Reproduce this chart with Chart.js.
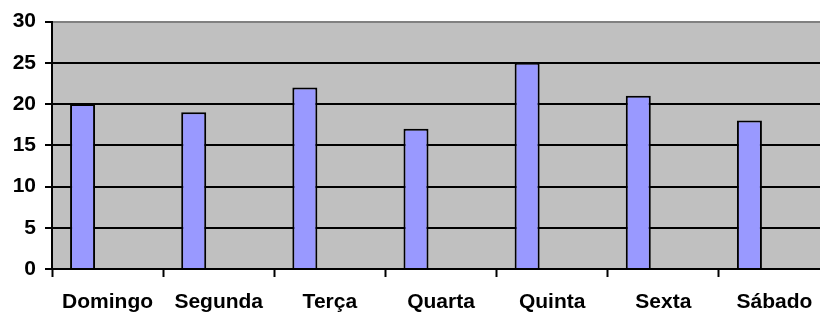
<!DOCTYPE html>
<html>
<head>
<meta charset="utf-8">
<script src="https://cdn.jsdelivr.net/npm/chart.js@4/dist/chart.umd.min.js"></script>
<style>
html,body{margin:0;padding:0;background:#fff;overflow:hidden;width:820px;height:314px;}
#wrap{width:836px;height:314px;position:relative;}
</style>
</head>
<body>
<div id="wrap"><canvas id="c" width="836" height="314"></canvas></div>
<script>
const categories = ["Domingo", "Segunda", "Terça", "Quarta", "Quinta", "Sexta", "Sábado"];
const values = [20, 19, 22, 17, 25, 21, 18];
const emptySeries = categories.map(() => null);
const yTicks = [0, 5, 10, 15, 20, 25, 30];

const plotBg = {
  id: 'plotBg',
  beforeDraw(chart) {
    const a = chart.chartArea, ctx = chart.ctx;
    ctx.save();
    ctx.fillStyle = '#C0C0C0';
    ctx.fillRect(a.left, a.top, a.right - a.left, a.bottom - a.top);
    ctx.restore();
  }
};

const font = { family: '"Liberation Sans", Arial, sans-serif', size: 21, weight: 'bold' };

new Chart(document.getElementById('c'), {
  type: 'bar',
  data: {
    labels: categories,
    datasets: [
      { data: values, backgroundColor: '#9999FF', borderColor: '#000', borderWidth: 2, borderSkipped: 'start' },
      { data: emptySeries, backgroundColor: '#993366' },
      { data: emptySeries, backgroundColor: '#FFFFCC' }
    ]
  },
  options: {
    responsive: false,
    animation: false,
    devicePixelRatio: 1,
    layout: { padding: { left: 0, top: 20, right: 6, bottom: 0 } },
    plugins: { legend: { display: false }, tooltip: { enabled: false } },
    datasets: { bar: { categoryPercentage: 0.675, barPercentage: 1 } },
    scales: {
      x: {
        offset: true,
        grid: { offset: true, drawOnChartArea: false, drawTicks: true, tickLength: 8, tickColor: '#000', tickWidth: 2 },
        border: { color: '#000', width: 2 },
        ticks: { color: '#000', font: font, padding: 13, maxRotation: 0, autoSkip: false },
        afterFit(s) { s.height = 45; }
      },
      y: {
        min: 0, max: 30,
        afterBuildTicks(s) { s.ticks = yTicks.map(v => ({ value: v })); },
        grid: {
          color: ctx => (ctx.tick && ctx.tick.value === 30) ? '#808080' : '#000',
          lineWidth: 2,
          tickColor: '#000',
          tickLength: 7,
          tickWidth: 2
        },
        border: { color: '#000', width: 2 },
        ticks: { color: '#000', font: font, padding: 9 },
        afterFit(s) { s.width = 52; }
      }
    }
  },
  plugins: [plotBg]
});
</script>
</body>
</html>
